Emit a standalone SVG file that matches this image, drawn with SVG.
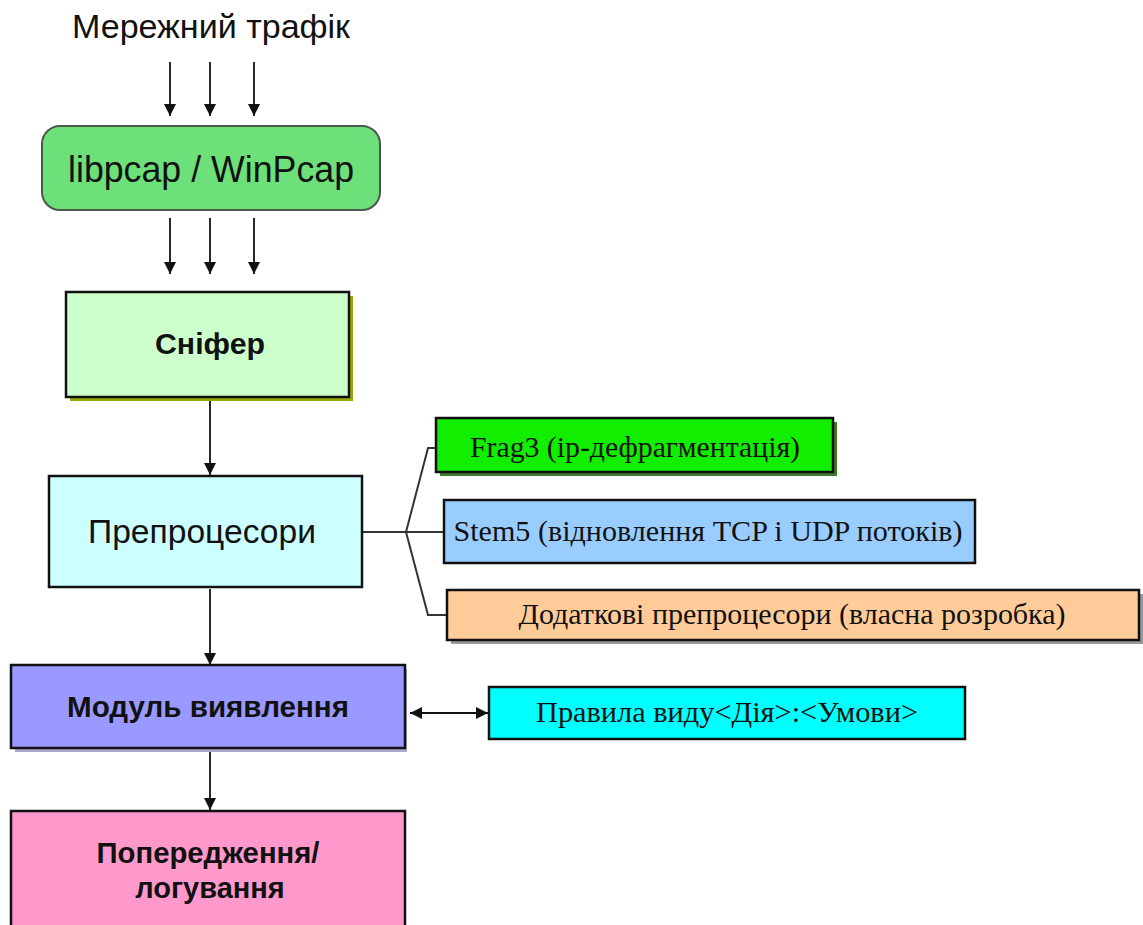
<svg xmlns="http://www.w3.org/2000/svg" width="1143" height="925" viewBox="0 0 1143 925">
  <defs>
    <marker id="arr" viewBox="0 0 10 10" refX="10" refY="5" markerWidth="12" markerHeight="12" markerUnits="userSpaceOnUse" orient="auto">
      <path d="M0,0 L10,5 L0,10 z" fill="#111"/>
    </marker>
    <marker id="arrS" viewBox="0 0 10 10" refX="0" refY="5" markerWidth="12" markerHeight="12" markerUnits="userSpaceOnUse" orient="auto">
      <path d="M10,0 L0,5 L10,10 z" fill="#111"/>
    </marker>
    <style>
      .sans { font-family: "Liberation Sans", Arial, sans-serif; fill: #111; }
      .serif { font-family: "Liberation Serif", "Times New Roman", serif; fill: #111; font-size: 29px; }
      .bold { font-weight: bold; }
      .box { stroke: #111; stroke-width: 2.5; }
      .link { stroke: #111; stroke-width: 1.8; fill: none; }
      .branch { stroke: #333; stroke-width: 2; fill: none; }
    </style>
  </defs>
  <rect width="1143" height="925" fill="#ffffff"/>

  <text class="sans" x="211" y="38" font-size="33" text-anchor="middle" textLength="278" lengthAdjust="spacingAndGlyphs">Мережний трафік</text>

  <g id="connectors">
    <line class="link" x1="170" y1="62" x2="170" y2="116" marker-end="url(#arr)"/>
    <line class="link" x1="210" y1="62" x2="210" y2="116" marker-end="url(#arr)"/>
    <line class="link" x1="254" y1="62" x2="254" y2="116" marker-end="url(#arr)"/>
    <line class="link" x1="170" y1="218" x2="170" y2="274" marker-end="url(#arr)"/>
    <line class="link" x1="210" y1="218" x2="210" y2="274" marker-end="url(#arr)"/>
    <line class="link" x1="254" y1="218" x2="254" y2="274" marker-end="url(#arr)"/>
    <line class="link" x1="210" y1="400" x2="210" y2="475" marker-end="url(#arr)"/>
    <line class="link" x1="210" y1="589" x2="210" y2="665" marker-end="url(#arr)"/>
    <line class="link" x1="210" y1="750" x2="210" y2="810" marker-end="url(#arr)"/>
    <line class="link" x1="410" y1="713" x2="488" y2="713" marker-start="url(#arrS)" marker-end="url(#arr)"/>
    <path class="branch" d="M362,532 L406,532 L428,448 L437,448"/>
    <path class="branch" d="M406,532 L444,532"/>
    <path class="branch" d="M406,532 L428,615 L447,615"/>
  </g>

  <g id="capture">
    <rect x="42" y="126" width="338" height="84" rx="18" fill="#6ee07a" stroke="#4a5a4a" stroke-width="2"/>
    <text class="sans" x="211" y="182" font-size="36" text-anchor="middle" textLength="286" lengthAdjust="spacingAndGlyphs">libpcap / WinPcap</text>
  </g>

  <g id="sniffer">
    <rect x="70" y="296" width="283" height="105" fill="#99aa00"/>
    <rect class="box" x="66" y="292" width="283" height="105" fill="#ccffcc"/>
    <text class="sans bold" x="210" y="354" font-size="29" text-anchor="middle" textLength="110" lengthAdjust="spacingAndGlyphs">Сніфер</text>
  </g>

  <g id="preprocessors">
    <rect class="box" x="49" y="476" width="313" height="111" fill="#ccffff"/>
    <text class="sans" x="202" y="543" font-size="34" text-anchor="middle" textLength="228" lengthAdjust="spacingAndGlyphs">Препроцесори</text>
  </g>

  <g id="frag3">
    <rect x="440" y="422" width="397" height="54" fill="#3a7a2a"/>
    <rect class="box" x="436" y="418" width="397" height="54" fill="#11ee00"/>
    <text class="serif" x="635" y="457" text-anchor="middle" textLength="330" lengthAdjust="spacingAndGlyphs">Frag3 (ip-дефрагментація)</text>
  </g>

  <g id="stream5">
    <rect class="box" x="444" y="500" width="531" height="63" fill="#99ccff"/>
    <text class="serif" x="708" y="541" text-anchor="middle" textLength="509" lengthAdjust="spacingAndGlyphs">Stem5 (відновлення TCP і UDP потоків)</text>
  </g>

  <g id="custom">
    <rect x="451" y="594" width="692" height="50" fill="#999"/>
    <rect class="box" x="447" y="590" width="692" height="50" fill="#ffcc99"/>
    <text class="serif" x="792" y="624" text-anchor="middle" textLength="547" lengthAdjust="spacingAndGlyphs">Додаткові препроцесори (власна розробка)</text>
  </g>

  <g id="detection">
    <rect x="15" y="669" width="392" height="83" fill="#aaaacc"/>
    <rect class="box" x="11" y="665" width="394" height="83" fill="#9999ff"/>
    <text class="sans bold" x="208" y="717" font-size="29" text-anchor="middle" textLength="282" lengthAdjust="spacingAndGlyphs">Модуль виявлення</text>
  </g>

  <g id="rules">
    <rect class="box" x="489" y="687" width="476" height="52" fill="#00ffff"/>
    <text class="serif" x="727" y="722" text-anchor="middle" textLength="382" lengthAdjust="spacingAndGlyphs">Правила виду&lt;Дія&gt;:&lt;Умови&gt;</text>
  </g>

  <g id="alerts">
    <rect class="box" x="11" y="811" width="394" height="120" fill="#ff99cc"/>
    <text class="sans bold" x="208" y="863" font-size="29" text-anchor="middle" textLength="223" lengthAdjust="spacingAndGlyphs">Попередження/</text>
    <text class="sans bold" x="210" y="898" font-size="29" text-anchor="middle">логування</text>
  </g>
</svg>
